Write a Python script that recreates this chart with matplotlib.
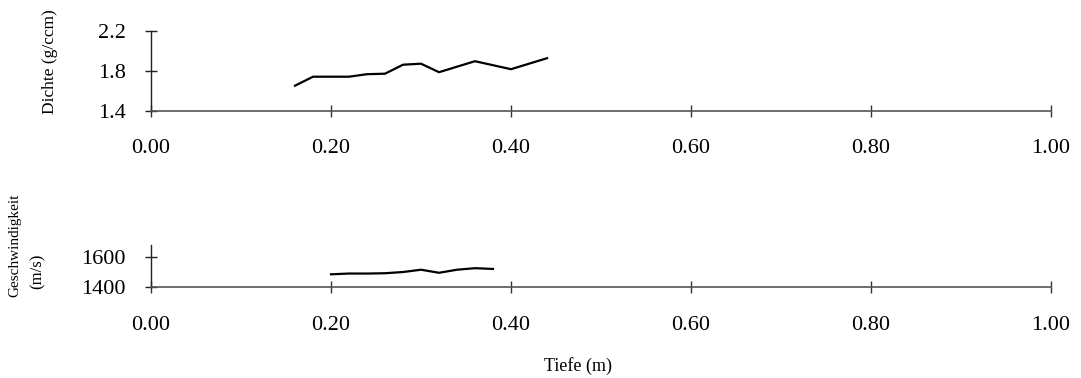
import numpy as np
import matplotlib
matplotlib.use("Agg")
import matplotlib.pyplot as plt

plt.rcParams["font.family"] = ["Liberation Serif", "DejaVu Serif"]

# Dichte (oben)
tiefe_d = [0.16, 0.18, 0.20, 0.22, 0.24, 0.26, 0.28, 0.30, 0.32, 0.34, 0.36, 0.38, 0.40, 0.42, 0.44]
dichte = [1.65, 1.74, 1.74, 1.74, 1.765, 1.77, 1.86, 1.87, 1.785, 1.84, 1.895, 1.855, 1.815, 1.87, 1.925]

# Geschwindigkeit (unten)
tiefe_v = [0.20, 0.22, 0.24, 0.26, 0.28, 0.30, 0.32, 0.34, 0.36, 0.38]
geschw = [1485, 1490, 1490, 1492, 1500, 1515, 1495, 1515, 1525, 1520]

x_ticks = [0.0, 0.2, 0.4, 0.6, 0.8, 1.0]
x_labels = ["0.00", "0.20", "0.40", "0.60", "0.80", "1.00"]

W, H = 1081, 378
fig = plt.figure(figsize=(W / 100, H / 100), dpi=100)

def px_axes(left, top, right, bottom):
    return fig.add_axes([left / W, 1 - bottom / H, (right - left) / W, (bottom - top) / H])

ax1 = px_axes(151, 30.7, 1051, 110.7)
ax2 = px_axes(151, 244.5, 1051, 287.3)

for ax in (ax1, ax2):
    ax.set_xlim(0, 1.0)
    ax.spines["top"].set_visible(False)
    ax.spines["right"].set_visible(False)
    ax.spines["left"].set_color("#222222")
    ax.spines["bottom"].set_color("#555555")
    ax.spines["left"].set_linewidth(1.0)
    ax.spines["bottom"].set_linewidth(1.2)
    ax.set_xticks(x_ticks)
    ax.set_xticklabels(x_labels)
    ax.tick_params(axis="x", direction="inout", length=9, width=1, color="#333333",
                   pad=16, labelsize=16)
    ax.tick_params(axis="y", direction="inout", length=8, width=1, color="#222222",
                   pad=14, labelsize=16)
    ax.patch.set_alpha(0)

ax1.plot(tiefe_d, dichte, color="black", linewidth=1.6)
ax1.set_ylim(1.4, 2.2)
ax1.set_yticks([1.4, 1.8, 2.2])
ax1.set_yticklabels(["1.4", "1.8", "2.2"])

ax2.plot(tiefe_v, geschw, color="black", linewidth=1.6)
ax2.set_ylim(1400, 1680)
ax2.set_yticks([1400, 1600])
ax2.set_yticklabels(["1400", "1600"])

fig.text(50 / W, 1 - 62 / H, "Dichte (g/ccm)", rotation=90, fontsize=12.5,
         ha="center", va="center")
fig.text(15 / W, 1 - 245 / H, "Geschwindigkeit", rotation=90, fontsize=11,
         ha="center", va="center")
fig.text(38 / W, 1 - 271 / H, "(m/s)", rotation=90, fontsize=12,
         ha="center", va="center")
fig.text(578 / W, 1 - 366 / H, "Tiefe (m)", fontsize=13, ha="center", va="center")

fig.savefig("out.png", dpi=100)
